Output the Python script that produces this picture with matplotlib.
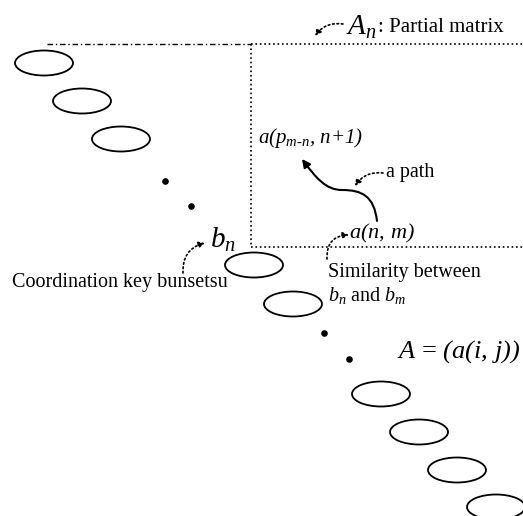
import numpy as np
import matplotlib
matplotlib.use("Agg")
import matplotlib.pyplot as plt
from matplotlib.patches import Ellipse, FancyArrowPatch
from matplotlib.path import Path

plt.rcParams['font.family'] = ['Liberation Serif', 'DejaVu Serif']
# all math pieces are italic in the figure (parens, digits too)
plt.rcParams['mathtext.fontset'] = 'custom'
plt.rcParams['mathtext.rm'] = 'Liberation Serif:italic'
plt.rcParams['mathtext.it'] = 'Liberation Serif:italic'

# bunsetsu ellipses along the diagonal (pixel coords)
ell_x = [44, 82, 121, 254, 293, 381, 419, 457, 496]
ell_y = [63, 101, 139, 265, 304, 394, 432, 470, 507]
dot_x = [165, 191, 324, 349]
dot_y = [181, 206, 333, 359]

# partial matrix box
box_left, box_top, box_bottom = 251, 44, 247
top_start = 47

fig = plt.figure(figsize=(5.23, 5.16), dpi=100)
ax = fig.add_axes([0, 0, 1, 1])
ax.set_xlim(0, 523)
ax.set_ylim(516, 0)
ax.axis('off')

for x, y in zip(ell_x, ell_y):
    ax.add_patch(Ellipse((x, y), 58, 25, fill=False, ec='black', lw=1.3))
ax.scatter(dot_x, dot_y, s=14, color='black')

# dotted box
ax.plot([top_start, box_left], [box_top, box_top], color='black', lw=1.0, ls=(0, (4, 2, 1, 2)))
ax.plot([box_left, 523], [box_top, box_top], color='black', lw=1.2, ls=':')
ax.plot([box_left, box_left], [box_top, box_bottom], color='black', lw=1.2, ls=':')
ax.plot([box_left, 523], [box_bottom, box_bottom], color='black', lw=1.2, ls=':')

def dot_arrow(p0, p1, rad):
    ax.annotate('', xy=p1, xytext=p0,
                arrowprops=dict(arrowstyle='-|>', ls=':', lw=1.2, color='black',
                                mutation_scale=9, shrinkA=0, shrinkB=0,
                                connectionstyle='arc3,rad=%s' % rad))

# labels
ax.text(346, 27, r'$A_n$', fontsize=21, ha='left', va='center')
ax.text(378, 28, ': Partial matrix', fontsize=15, ha='left', va='center')
dot_arrow((343, 24), (315, 36), 0.3)

ax.text(258, 138, r'$a(p_{m\text{-}n},\,n{+}1)$', fontsize=15, ha='left', va='center')

# the path
verts = [(377, 221), (374, 196), (362, 190), (342, 190),
         (326, 190), (316, 178), (302, 159)]
codes = [Path.MOVETO, Path.CURVE4, Path.CURVE4, Path.CURVE4,
         Path.CURVE4, Path.CURVE4, Path.CURVE4]
ax.add_patch(FancyArrowPatch(path=Path(verts, codes), arrowstyle='-|>',
                             mutation_scale=12, lw=1.5, color='black'))
ax.text(386, 173, 'a path', fontsize=14.5, ha='left', va='center')
dot_arrow((383, 173), (355, 186), 0.3)

ax.text(349, 233, r'$a(n,\,m)$', fontsize=16, ha='left', va='center')
dot_arrow((327, 259), (349, 235), -0.5)
ax.text(328, 272, 'Similarity between', fontsize=14.5, ha='left', va='center')
ax.text(328, 296, r'$b_n$ and $b_m$', fontsize=14.5, ha='left', va='center')

ax.text(210, 240, r'$b_n$', fontsize=21, ha='left', va='center')
dot_arrow((183, 273), (205, 243), -0.4)
ax.text(12, 283, 'Coordination key bunsetsu', fontsize=14.5, ha='left', va='center')

ax.text(397, 352, r'$A$ = $(a(i,\,j))$', fontsize=19, ha='left', va='center')

fig.savefig('out.png', dpi=100)
